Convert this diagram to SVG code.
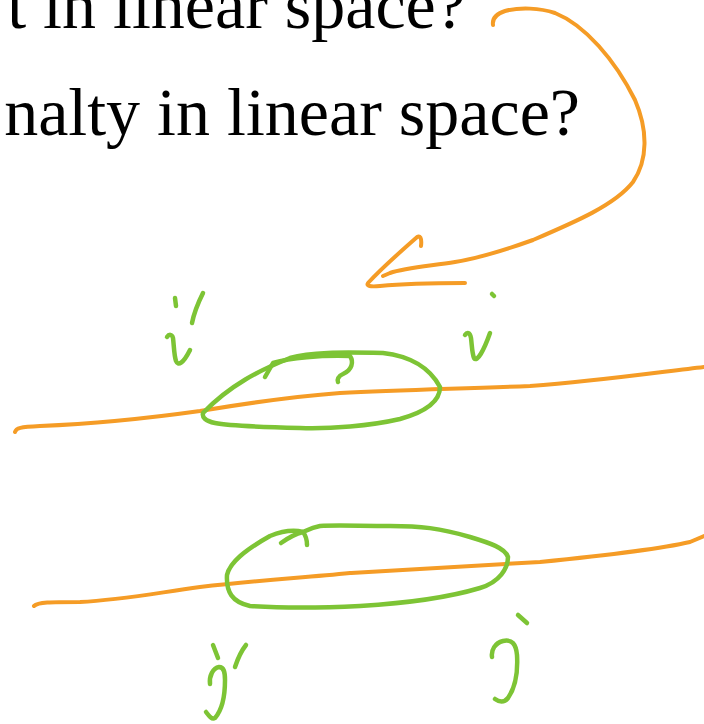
<svg xmlns="http://www.w3.org/2000/svg" width="704" height="724" viewBox="0 0 704 724">
<style>
.txt{font-family:"Liberation Serif","DejaVu Serif",serif;font-size:68px;fill:#000}
.or{fill:none;stroke:#F59C26;stroke-width:4;stroke-linecap:round;stroke-linejoin:round}
.gr{fill:none;stroke:#7DC435;stroke-width:4.5;stroke-linecap:round;stroke-linejoin:round}
</style>
<rect width="704" height="724" fill="#fff"/>
<g id="text">
<text class="txt" x="466" y="28" text-anchor="end">t in linear space?</text>
<text class="txt" x="580" y="135" text-anchor="end">nalty in linear space?</text>
</g>
<g id="connectors">
<path class="or" d="M493,25 C492,18 496,14 505,11 C520,7 540,8 555,13 C585,25 615,60 635,100 C648,130 648,160 633,182 C615,205 575,222 533,240 C505,250 480,258 455,262 C430,266 405,268 390,273 L383,276"/>
<path class="or" d="M421,246 C422,238 420,234 416,238 C400,252 380,270 368,283 C366,286 370,287 380,286 C400,284 430,283 465,283"/>
</g>
<g id="line1">
<path class="or" d="M15,432 C16,428 20,427 40,426 C90,424 150,418 200,411 C260,401 300,396 340,393 C400,390 450,389 530,386 C600,381 660,372 704,367"/>
</g>
<g id="line2">
<path class="or" d="M34,606 C38,602 50,602 80,602 C120,600 150,594 200,587 C260,580 300,578 350,573 C410,569 470,566 540,562 C600,556 660,549 690,542 L704,536"/>
</g>
<g id="blob1">
<path class="gr" d="M203,413 C230,385 260,370 290,358 C310,352 340,352 383,353 C410,356 430,368 440,387 C440,402 425,412 400,419 C370,426 330,429 300,428 C260,427 230,426 215,423 C205,421 202,417 203,413 Z"/>
<path class="gr" d="M265,377 L273,363 C290,358 320,355 350,356 C354,362 352,370 343,374 C338,376 337,380 338,382"/>
</g>
<g id="blob2">
<path class="gr" d="M508,557 C505,548 490,543 470,537 C440,528 420,526 390,526 C360,526 335,525 320,526 C310,528 306,531 303,532 C295,530 285,530 270,536 C245,550 230,562 227,575 C226,592 232,602 250,606 C280,608 320,608 360,606 C410,603 450,597 480,588 C500,582 508,568 508,557 Z"/>
<path class="gr" d="M281,543 C288,538 295,534 303,532 C306,536 307,541 307,545"/>
</g>
<g id="label-i-prime">
<path class="gr" d="M175,298 L176,306"/>
<path class="gr" d="M203,293 C198,303 194,313 192,323"/>
<path class="gr" d="M167,337 C169,334 172,334 173,338 C174,346 174,355 176,361 C178,366 183,364 190,350"/>
</g>
<g id="label-i">
<path class="gr" d="M492,294 L494,296"/>
<path class="gr" d="M465,335 C467,332 470,332 471,338 C472,346 472,353 474,358 C477,363 484,350 490,333"/>
</g>
<g id="label-j-prime">
<path class="gr" d="M213,645 L218,658"/>
<path class="gr" d="M246,645 C242,650 238,658 235,667"/>
<path class="gr" d="M210,684 C209,676 213,668 219,667 C224,667 225,672 225,680 C225,695 222,710 215,718 C212,720 209,716 206,712"/>
</g>
<g id="label-j">
<path class="gr" d="M518,615 L527,623"/>
<path class="gr" d="M492,657 C491,650 495,643 503,641 C512,639 516,644 517,655 C518,672 515,688 508,698 C504,703 499,702 495,699"/>
</g>
</svg>
